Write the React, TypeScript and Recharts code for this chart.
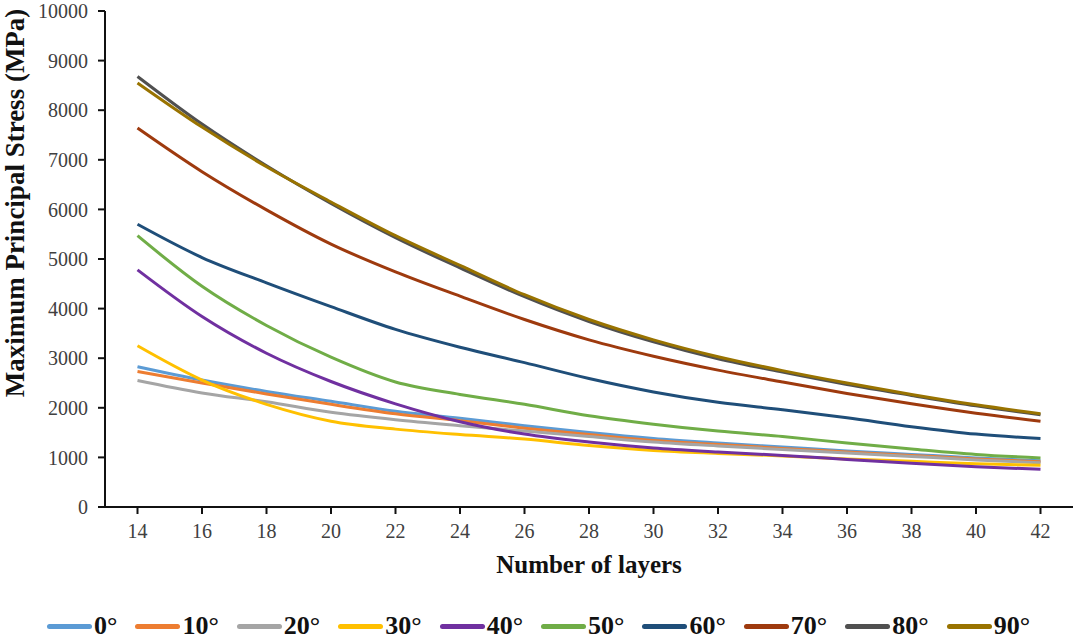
import { LineChart, Line, XAxis, YAxis } from "recharts";

const layers = [14, 16, 18, 20, 22, 24, 26, 28, 30, 32, 34, 36, 38, 40, 42];

const stress0 = [2830, 2560, 2330, 2130, 1930, 1790, 1640, 1500, 1380, 1290, 1210, 1130, 1060, 990, 930];
const stress10 = [2730, 2500, 2280, 2070, 1880, 1740, 1590, 1460, 1340, 1260, 1180, 1110, 1040, 970, 910];
const stress20 = [2550, 2300, 2120, 1910, 1760, 1640, 1530, 1420, 1310, 1230, 1160, 1090, 1020, 950, 890];
const stress30 = [3250, 2560, 2070, 1730, 1570, 1460, 1370, 1240, 1140, 1080, 1030, 970, 920, 870, 840];
const stress40 = [4780, 3840, 3100, 2530, 2080, 1720, 1470, 1310, 1190, 1110, 1040, 960, 880, 810, 760];
const stress50 = [5470, 4450, 3660, 3020, 2520, 2270, 2070, 1840, 1670, 1530, 1420, 1290, 1170, 1060, 990];
const stress60 = [5700, 5030, 4520, 4040, 3580, 3220, 2910, 2590, 2320, 2110, 1960, 1800, 1620, 1470, 1380];
const stress70 = [7640, 6760, 5990, 5300, 4740, 4250, 3780, 3370, 3040, 2760, 2520, 2290, 2080, 1890, 1730];
const stress80 = [8680, 7720, 6880, 6120, 5430, 4820, 4240, 3740, 3330, 2990, 2720, 2470, 2250, 2040, 1860];
const stress90 = [8550, 7660, 6860, 6150, 5470, 4870, 4280, 3780, 3370, 3030, 2750, 2500, 2270, 2060, 1880];

const seriesNames = ["0°", "10°", "20°", "30°", "40°", "50°", "60°", "70°", "80°", "90°"];
const seriesValues = [stress0, stress10, stress20, stress30, stress40, stress50, stress60, stress70, stress80, stress90];
const seriesColors = [
  "#5B9BD5",
  "#ED7D31",
  "#A5A5A5",
  "#FFC000",
  "#7030A0",
  "#70AD47",
  "#1F4E79",
  "#9E3A0E",
  "#505050",
  "#997300",
];

const yTicks = [0, 1000, 2000, 3000, 4000, 5000, 6000, 7000, 8000, 9000, 10000];

const data = layers.map((n, i) => {
  const row: Record<string, number> = { layers: n };
  seriesValues.forEach((vals, s) => {
    row["s" + s] = vals[i];
  });
  return row;
});

const serif = "'Liberation Serif', 'Times New Roman', serif";

export default function App() {
  return (
    <div
      style={{
        position: "absolute",
        left: 0,
        top: 0,
        width: 1080,
        height: 639,
        background: "#fff",
        fontFamily: serif,
      }}
    >
      <LineChart
        width={1080}
        height={639}
        data={data}
        margin={{ top: 11, right: 7, bottom: 52, left: 0 }}
      >
        <XAxis
          xAxisId="top"
          orientation="top"
          dataKey="layers"
          height={0}
          tick={false}
          tickLine={false}
          axisLine={{ stroke: "#c4c4c4", strokeWidth: 1.5 }}
          padding={{ left: 32.5, right: 32.5 }}
        />
        <YAxis
          yAxisId="right"
          orientation="right"
          width={0}
          domain={[0, 10000]}
          tick={false}
          tickLine={false}
          axisLine={{ stroke: "#c4c4c4", strokeWidth: 1.5 }}
        />
        <XAxis
          dataKey="layers"
          height={80}
          padding={{ left: 32.5, right: 32.5 }}
          axisLine={{ stroke: "#111", strokeWidth: 2 }}
          tickLine={{ stroke: "#111", strokeWidth: 2 }}
          tickSize={7}
          tickMargin={10}
          tick={{ fontSize: 20, fill: "#404040", fontFamily: serif }}
          interval={0}
          label={{
            value: "Number of layers",
            position: "insideBottom",
            offset: 14,
            style: { fontSize: 25, fontWeight: 700, fill: "#111", fontFamily: serif },
          }}
        />
        <YAxis
          width={105}
          domain={[0, 10000]}
          ticks={yTicks}
          interval={0}
          axisLine={{ stroke: "#111", strokeWidth: 2 }}
          tickLine={{ stroke: "#111", strokeWidth: 2 }}
          tickSize={7}
          tickMargin={10}
          tick={{ fontSize: 20, fill: "#404040", fontFamily: serif }}
          label={{
            value: "Maximum Principal Stress (MPa)",
            angle: -90,
            position: "insideLeft",
            offset: 14,
            dy: -56,
            style: { fontSize: 27, fontWeight: 700, fill: "#111", fontFamily: serif, textAnchor: "middle" },
          }}
        />
        {seriesNames.map((name, s) => (
          <Line
            key={name}
            name={name}
            dataKey={"s" + s}
            type="monotone"
            stroke={seriesColors[s]}
            strokeWidth={3}
            dot={false}
            activeDot={false}
            isAnimationActive={false}
          />
        ))}
      </LineChart>
      <div
        style={{
          position: "absolute",
          left: 47,
          top: 611,
          display: "flex",
          alignItems: "center",
          gap: 18,
        }}
      >
        {seriesNames.map((name, s) => (
          <div key={name} style={{ display: "flex", alignItems: "center" }}>
            <span
              style={{
                display: "inline-block",
                width: 45,
                height: 5,
                borderRadius: 3,
                background: seriesColors[s],
                marginRight: 2,
              }}
            />
            <span style={{ fontSize: 26, fontWeight: 700, color: "#111", lineHeight: "30px" }}>{name}</span>
          </div>
        ))}
      </div>
    </div>
  );
}
